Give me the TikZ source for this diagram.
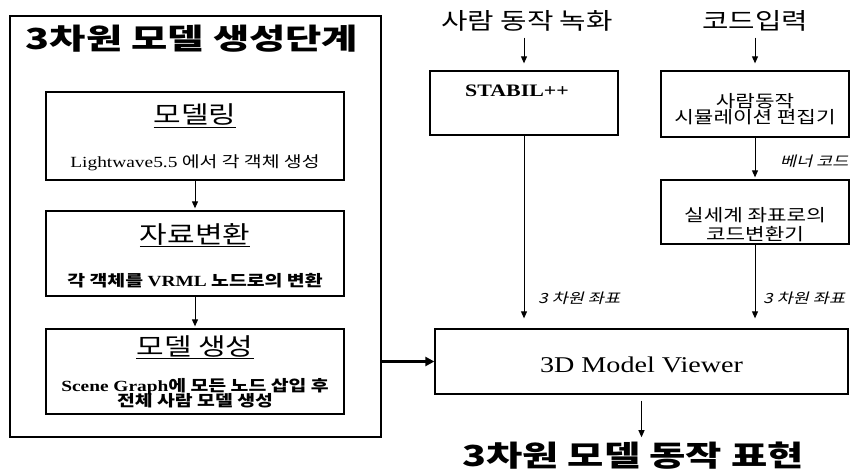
\documentclass[tikz,border=0pt]{standalone}
\usepackage{fontspec}
\setmainfont{Liberation Serif}[FakeStretch=1.25]
\newfontfamily\lat{Liberation Serif}[FakeStretch=1.25]
\newfontfamily\ko{Noto Sans CJK KR}[FakeStretch=1.25]
\newfontfamily\kow{Noto Sans CJK KR}[FakeStretch=1.36]
\newfontfamily\koi{Noto Sans CJK KR}[FakeStretch=1.25,FakeSlant=0.25]
\usetikzlibrary{arrows.meta}
\newcommand{\fs}[1]{\fontsize{#1}{#1}\selectfont}
\begin{document}
\begin{tikzpicture}[x=1pt,y=-1pt,
  box/.style={draw, line width=1.3pt, inner sep=0pt},
  arr/.style={line width=1pt, -{Triangle[length=7pt,width=6pt]}},
  bigarr/.style={line width=2.6pt, -{Triangle[length=9pt,width=9pt]}},
  txt/.style={inner sep=0pt, align=center},
  head/.style={txt, font=\ko\fs{24}},
  small/.style={txt, font=\ko\fs{15.5}},
  ital/.style={inner sep=0pt, anchor=west, font=\koi\fs{14}},
  toplbl/.style={txt, font=\ko\fs{23}},
  big/.style={inner sep=0pt, anchor=base, font=\kow\bfseries\fs{29}}]
\fill[white] (0,0) rectangle (858,470);
\useasboundingbox (0,0) rectangle (858,470);
% left panel
\node[box, minimum width=371pt, minimum height=421pt] (outer) at (195.5,226.5) {};
\node[big] (title) at (192,50) {3차원 모델 생성단계};
\node[box, minimum width=298pt, minimum height=88pt] (b1) at (195,136) {};
\node[head] (h1) at (195,116) {\underline{모델링}};
\node[small] (t1) at (195,163) {{\lat Lightwave5.5} 에서 각 객체 생성};
\node[box, minimum width=298pt, minimum height=85pt] (b2) at (195,253.5) {};
\node[head] (h2) at (195,235) {\underline{자료변환}};
\node[small, font=\ko\bfseries\fs{15.5}] (t2) at (195,281) {각 객체를 {\lat\bfseries VRML} 노드로의 변환};
\node[box, minimum width=298pt, minimum height=85pt] (b3) at (195,371.5) {};
\node[head] (h3) at (195,347) {\underline{모델 생성}};
\node[small, font=\ko\bfseries\fs{15.5}] (t3) at (195,393) {{\lat\bfseries Scene Graph}에 모든 노드 삽입 후\\[-2pt]전체 사람 모델 생성};
\draw[arr, shorten >=2pt] (b1) -- (b2);
\draw[arr, shorten >=2pt] (b2) -- (b3);
% right part
\node[toplbl] (rec) at (527,21) {사람 동작 녹화};
\node[toplbl] (code) at (755,21) {코드입력};
\node[box, minimum width=188pt, minimum height=64pt] (stab) at (524,103) {};
\node[txt, font=\lat\bfseries\fs{17.5}] (stabt) at (517,91) {STABIL++};
\node[box, minimum width=188pt, minimum height=66pt] (edit) at (755,104) {};
\node[txt, font=\ko\fs{17}, text depth=0pt] (editt) at (755,108) {사람동작\\[-1pt]시뮬레이션 편집기};
\node[box, minimum width=188pt, minimum height=64pt] (conv) at (755,212) {};
\node[txt, font=\ko\fs{17}] (convt) at (755,225) {실세계 좌표로의\\[2pt]코드변환기};
\node[box, minimum width=413pt, minimum height=65pt] (view) at (641.5,361.5) {};
\node[txt, font=\lat\fs{22.5}] (viewt) at (641.5,365) {3D Model Viewer};
\node[big] (result) at (633,466) {3차원 모델 동작 표현};
\draw[arr, shorten <=6pt, shorten >=7pt] (stab.north |- rec.south) -- (stab.north);
\draw[arr, shorten <=6pt, shorten >=7pt] (edit.north |- code.south) -- (edit.north);
\draw[arr, shorten >=2pt] (edit) -- (conv);
\node[ital] (lblcode) at (780,161) {베너 코드};
\draw[arr, shorten >=10pt] (stab) -- (stab |- view.north);
\node[ital] (lbl1) at (538,298) {3 차원 좌표};
\draw[arr, shorten >=10pt] (conv) -- (conv |- view.north);
\node[ital] (lbl2) at (763,298) {3 차원 좌표};
\draw[bigarr] (outer.east |- view.west) -- (view.west);
\draw[arr, shorten <=6pt, shorten >=4pt] (view.south) -- (view.south |- result.north);
\end{tikzpicture}
\end{document}
